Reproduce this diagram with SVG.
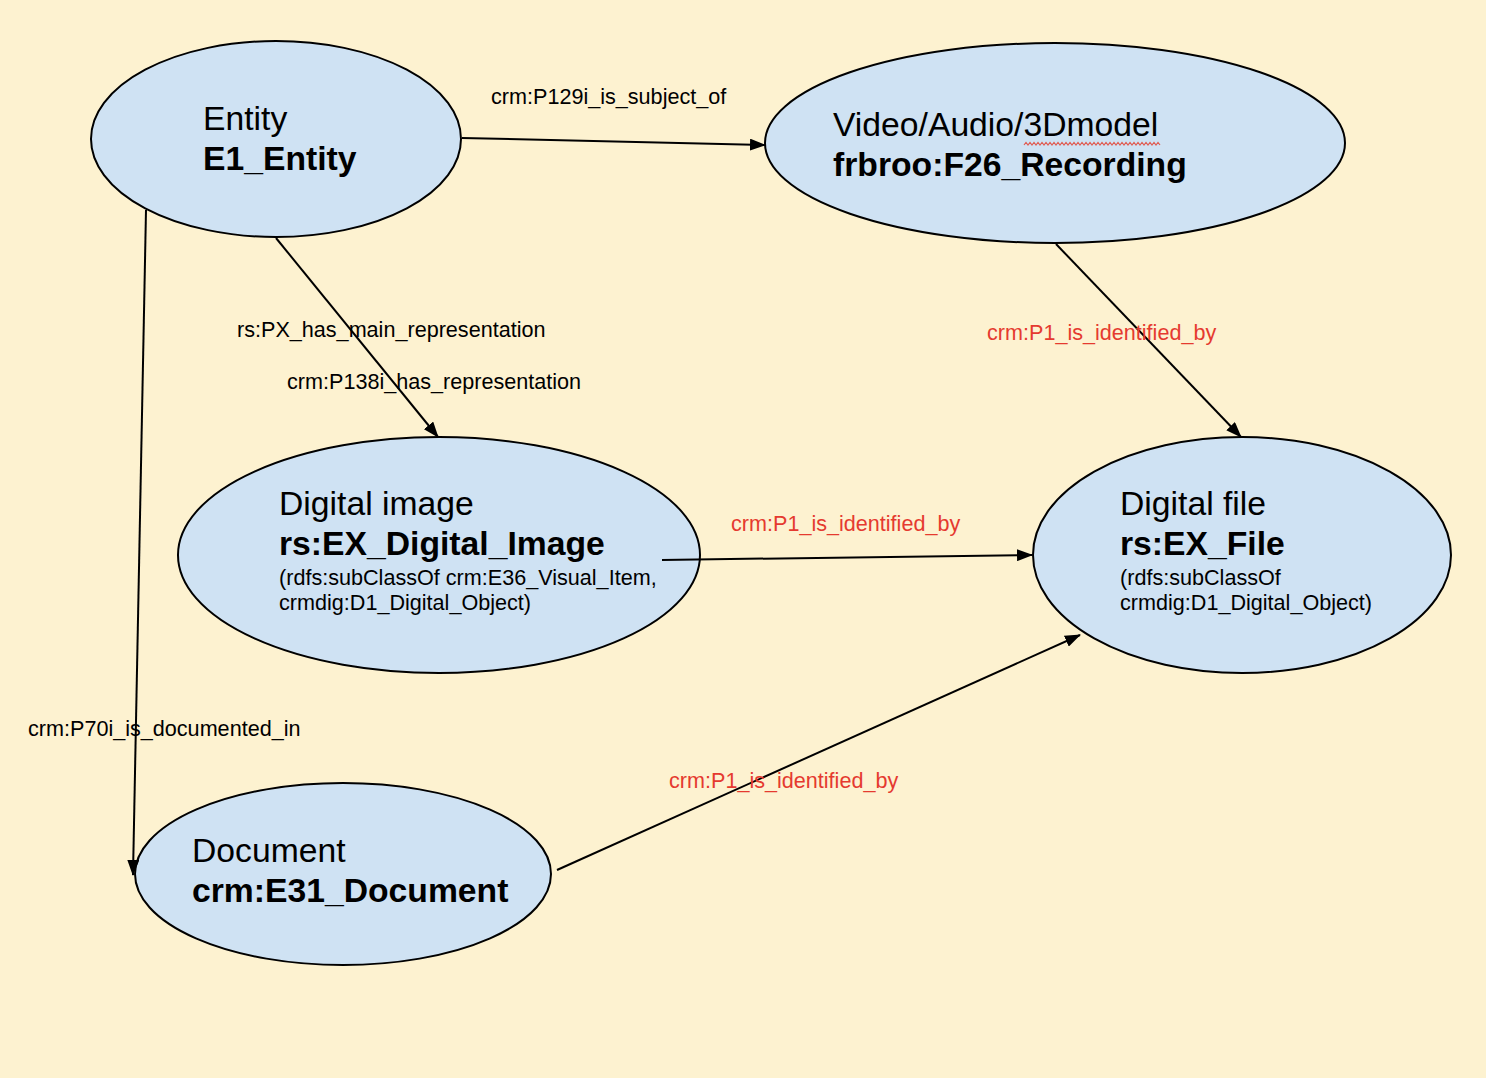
<svg xmlns="http://www.w3.org/2000/svg" width="1486" height="1078" viewBox="0 0 1486 1078">
<style>
.node{fill:#cfe2f3;stroke:#000;stroke-width:2}
.t{font-family:"Liberation Sans",Arial,sans-serif;font-size:33.7px;fill:#000}
.b{font-weight:bold}
.s{font-family:"Liberation Sans",Arial,sans-serif;font-size:21.6px;fill:#000}
.lbl{font-family:"Liberation Sans",Arial,sans-serif;font-size:21.6px;fill:#000}
.red{fill:#e53a2f}
.edge{stroke:#000;stroke-width:2;fill:none;marker-end:url(#arr)}
</style>
<defs>
<marker id="arr" markerWidth="16" markerHeight="12" refX="15" refY="6" orient="auto" markerUnits="userSpaceOnUse">
<path d="M0,0 L16,6 L0,12 Z" fill="#000"/>
</marker>
</defs>
<rect width="1486" height="1078" fill="#fdf2d0"/>
<g id="entity">
<ellipse class="node" cx="276" cy="139" rx="185" ry="98"/>
<text class="t" x="203" y="130">Entity</text>
<text class="t b" x="203" y="170">E1_Entity</text>
</g>
<g id="recording">
<ellipse class="node" cx="1055" cy="143" rx="290" ry="100"/>
<text class="t" x="833" y="136">Video/Audio/3Dmodel</text>
<path d="M1024,145 l2,-2.5 l2,2.5 l2,-2.5 l2,2.5 l2,-2.5 l2,2.5 l2,-2.5 l2,2.5 l2,-2.5 l2,2.5 l2,-2.5 l2,2.5 l2,-2.5 l2,2.5 l2,-2.5 l2,2.5 l2,-2.5 l2,2.5 l2,-2.5 l2,2.5 l2,-2.5 l2,2.5 l2,-2.5 l2,2.5 l2,-2.5 l2,2.5 l2,-2.5 l2,2.5 l2,-2.5 l2,2.5 l2,-2.5 l2,2.5 l2,-2.5 l2,2.5 l2,-2.5 l2,2.5 l2,-2.5 l2,2.5 l2,-2.5 l2,2.5 l2,-2.5 l2,2.5 l2,-2.5 l2,2.5 l2,-2.5 l2,2.5 l2,-2.5 l2,2.5 l2,-2.5 l2,2.5 l2,-2.5 l2,2.5 l2,-2.5 l2,2.5 l2,-2.5 l2,2.5 l2,-2.5 l2,2.5 l2,-2.5 l2,2.5 l2,-2.5 l2,2.5 l2,-2.5 l2,2.5 l2,-2.5 l2,2.5 l2,-2.5 l2,2.5" fill="none" stroke="#e05a50" stroke-width="1.2"/>
<text class="t b" x="833" y="176">frbroo:F26_Recording</text>
</g>
<g id="digital-image">
<ellipse class="node" cx="439" cy="555" rx="261" ry="118"/>
<text class="t" x="279" y="515">Digital image</text>
<text class="t b" x="279" y="555">rs:EX_Digital_Image</text>
<text class="s" x="279" y="585">(rdfs:subClassOf crm:E36_Visual_Item,</text>
<text class="s" x="279" y="610">crmdig:D1_Digital_Object)</text>
</g>
<g id="digital-file">
<ellipse class="node" cx="1242" cy="555" rx="209" ry="118"/>
<text class="t" x="1120" y="515">Digital file</text>
<text class="t b" x="1120" y="555">rs:EX_File</text>
<text class="s" x="1120" y="585">(rdfs:subClassOf</text>
<text class="s" x="1120" y="610">crmdig:D1_Digital_Object)</text>
</g>
<g id="document">
<ellipse class="node" cx="343" cy="874" rx="208" ry="91"/>
<text class="t" x="192" y="862">Document</text>
<text class="t b" x="192" y="902">crm:E31_Document</text>
</g>
<g id="connectors">
<line class="edge" x1="462" y1="138" x2="765" y2="145"/>
<line class="edge" x1="276" y1="238" x2="438" y2="437"/>
<line class="edge" x1="146" y1="210" x2="133" y2="875"/>
<line class="edge" x1="1056" y1="244" x2="1241" y2="437"/>
<line class="edge" x1="662" y1="560" x2="1032" y2="555"/>
<line class="edge" x1="557" y1="870" x2="1080" y2="635"/>
<text class="lbl" x="491" y="104">crm:P129i_is_subject_of</text>
<text class="lbl" x="237" y="337">rs:PX_has_main_representation</text>
<text class="lbl" x="287" y="389">crm:P138i_has_representation</text>
<text class="lbl red" x="987" y="340">crm:P1_is_identified_by</text>
<text class="lbl red" x="731" y="531">crm:P1_is_identified_by</text>
<text class="lbl" x="28" y="736">crm:P70i_is_documented_in</text>
<text class="lbl red" x="669" y="788">crm:P1_is_identified_by</text>
</g>
</svg>
